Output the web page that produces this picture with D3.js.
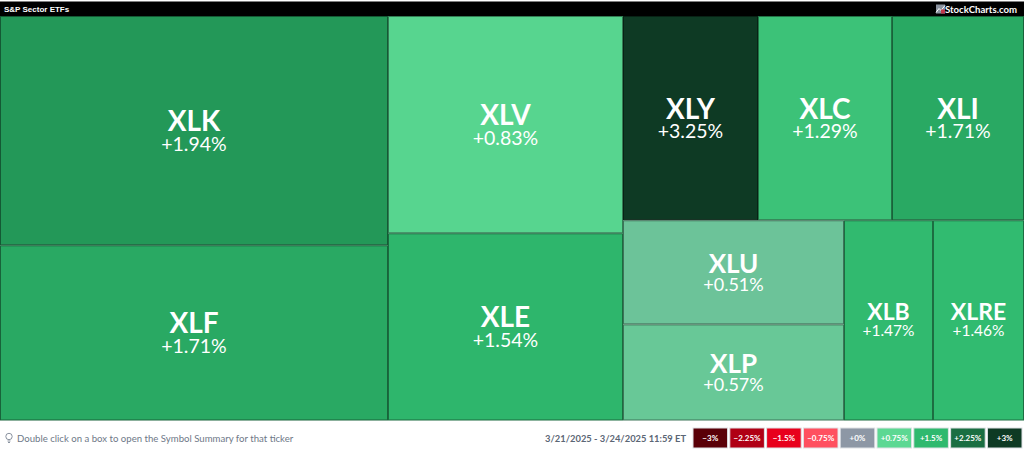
<!DOCTYPE html>
<html><head><meta charset="utf-8">
<script src="https://cdn.jsdelivr.net/npm/d3@7"></script>
<style>html,body{margin:0;padding:0;background:#fff;overflow:hidden}svg{display:block;font-family:Lato,sans-serif}</style>
</head><body><svg id="c" width="1024" height="450"></svg>
<script>
const title = "S&P Sector ETFs";
const brand = "StockCharts.com";
const hint = "Double click on a box to open the Symbol Summary for that ticker";
const dateRange = "3/21/2025 - 3/24/2025 11:59 ET";
const tickers = ["XLK","XLF","XLV","XLE","XLY","XLC","XLI","XLU","XLP","XLB","XLRE"];
const changes = [1.94,1.71,0.83,1.54,3.25,1.29,1.71,0.51,0.57,1.47,1.46];
const sizes = [88852,67900,50995,43945,27540,27336,26928,22984,21216,17800,18200];
const legendValues = [-3,-2.25,-1.5,-0.75,0,0.75,1.5,2.25,3];
const legendLabels = ["−3%","−2.25%","−1.5%","−0.75%","+0%","+0.75%","+1.5%","+2.25%","+3%"];
const legendColors = ["#5a0008","#b00015","#e8001c","#ff5060","#8d97a5","#5cd893","#2fb96e","#1a6e42","#0e3a24"];
const fillColors = ["#5a0008","#b00015","#e8001c","#ff5060","#8d97a5","#5cd893","#2fb96e","#1a8048","#0e3a24"];

const W = 1024, H = 450, mapTop = 16, mapBottom = 420.5;
const svg = d3.select("#c");
const color = d3.scaleLinear().domain(legendValues).range(fillColors).clamp(true);

const leaf = t => { const i = tickers.indexOf(t); return {name:t, value:sizes[i], change:changes[i]}; };
const tree = {kind:"dice", children:[
  {kind:"slice", children:[leaf("XLK"),leaf("XLF")]},
  {kind:"slice", children:[leaf("XLV"),leaf("XLE")]},
  {kind:"slice", children:[
    {kind:"dice", children:[leaf("XLY"),leaf("XLC"),leaf("XLI")]},
    {kind:"dice", children:[
      {kind:"slice", children:[leaf("XLU"),leaf("XLP")]},
      leaf("XLB"),leaf("XLRE")]}
  ]}
]};
const root = d3.hierarchy(tree).sum(d => d.value || 0);
d3.treemap()
  .size([W, mapBottom - mapTop])
  .tile((n,x0,y0,x1,y1) => (n.data.kind === "dice" ? d3.treemapDice : d3.treemapSlice)(n,x0,y0,x1,y1))(root);

// header
svg.append("rect").attr("y",1.5).attr("width",W).attr("height",mapTop-1.5).attr("fill","#000");
svg.append("text").attr("x",4).attr("y",11.5).attr("fill","#fff").attr("font-size",8).attr("font-weight",700)
  .attr("font-family","'Liberation Sans',sans-serif").text(title);
const logo = svg.append("g").attr("transform","translate(936,4.5)");
logo.append("rect").attr("width",9).attr("height",9).attr("fill","#8b93a0");
logo.append("path").attr("d","M0 8L3 4L5 6L9 1").attr("fill","none").attr("stroke","#fff").attr("stroke-width",1);
logo.append("rect").attr("x",5).attr("y",5).attr("width",4).attr("height",4).attr("fill","#c0394a");
svg.append("text").attr("x",1017).attr("y",12.5).attr("text-anchor","end").attr("fill","#fff").attr("font-size",9.6).attr("font-weight",700)
  .text(brand);

// cells
const cells = svg.append("g").attr("transform",`translate(0,${mapTop})`)
  .selectAll("g").data(root.leaves()).join("g")
  .attr("transform",d=>`translate(${d.x0},${d.y0})`);
cells.append("rect")
  .attr("x",0.5).attr("y",0.5)
  .attr("width",d=>d.x1-d.x0-1).attr("height",d=>d.y1-d.y0-1)
  .attr("fill",d=>color(d.data.change))
  .attr("stroke",d=>d3.color(color(d.data.change)).darker(1.5))
  .attr("stroke-width",1);
const tier = d => (d.x1-d.x0) < 100 ? 0 : ((d.y1-d.y0) < 110 ? 1 : 2);
const titleSize = [23,26,28], subSize = [15.5,18,19.5], subDy = [16,19,20];
cells.append("text").attr("text-anchor","middle").attr("fill","#fff").attr("font-weight",700)
  .attr("x",d=>(d.x1-d.x0)/2).attr("y",d=>(d.y1-d.y0)/2+(tier(d)?0.5:0))
  .attr("font-size",d=>titleSize[tier(d)]).text(d=>d.data.name);
cells.append("text").attr("text-anchor","middle").attr("fill","#fff")
  .attr("x",d=>(d.x1-d.x0)/2).attr("y",d=>(d.y1-d.y0)/2+subDy[tier(d)])
  .attr("font-size",d=>subSize[tier(d)]).text(d=>"+"+d.data.change.toFixed(2)+"%");

// footer
const bulb = svg.append("g").attr("transform","translate(9,438)").attr("fill","none").attr("stroke","#8a93a0").attr("stroke-width",1);
bulb.append("circle").attr("cy",-1.5).attr("r",3.2);
bulb.append("path").attr("d","M-1.5 3H1.5M-1 4.5H1");
svg.append("text").attr("x",17).attr("y",441.5).attr("fill","#6e7887").attr("font-size",9.6).text(hint);
svg.append("text").attr("x",686).attr("y",441.5).attr("text-anchor","end").attr("fill","#5b6675").attr("font-size",9.35).attr("font-weight",700).text(dateRange);

const lx = d3.scaleBand().domain(legendValues).range([693,1022]).paddingInner(0.06).paddingOuter(0);
const lg = svg.append("g").selectAll("g").data(legendValues).join("g")
  .attr("transform",v=>`translate(${lx(v)},428)`);
lg.append("rect").attr("width",lx.bandwidth()).attr("height",20).attr("fill",(v,i)=>legendColors[i])
  .attr("stroke","#dfe2e6").attr("stroke-width",1);
lg.append("text").attr("x",lx.bandwidth()/2).attr("y",13.2).attr("text-anchor","middle").attr("fill","#fff")
  .attr("font-size",8).attr("font-weight",700).text((v,i)=>legendLabels[i]);
</script></body></html>
